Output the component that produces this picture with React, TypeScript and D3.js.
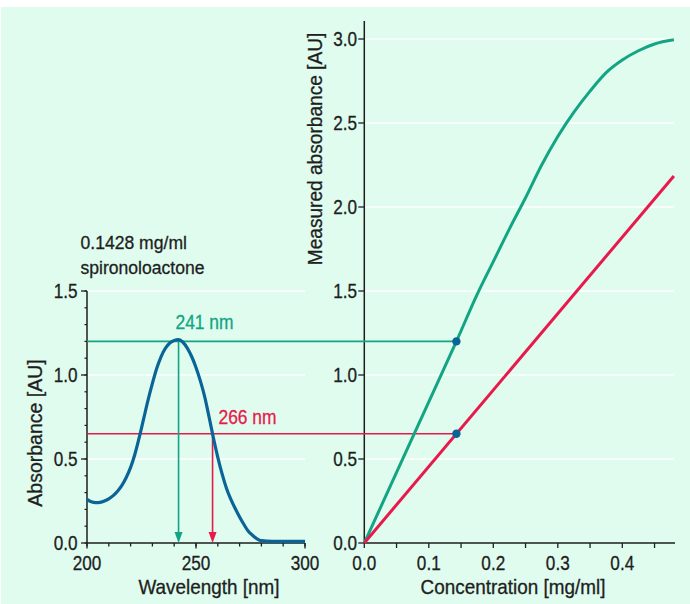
import React from "react";
import * as d3 from "d3";

// Spectrum (wavelength nm, absorbance AU)
const specWl = [200, 202, 204, 206, 208, 210, 212, 214, 216, 218, 220, 222, 224, 226, 228, 230, 232, 234, 236, 238, 240, 242, 244, 246, 248, 250, 252, 254, 256, 258, 260, 262, 264, 266, 268, 270, 272, 274, 276, 278, 280, 285, 290, 295, 300];
const specAbs = [0.26, 0.245, 0.24, 0.242, 0.25, 0.263, 0.282, 0.308, 0.343, 0.39, 0.45, 0.53, 0.63, 0.74, 0.85, 0.95, 1.04, 1.11, 1.16, 1.19, 1.205, 1.21, 1.195, 1.16, 1.11, 1.045, 0.965, 0.87, 0.75, 0.625, 0.51, 0.41, 0.325, 0.26, 0.205, 0.155, 0.11, 0.07, 0.045, 0.025, 0.014, 0.01, 0.01, 0.01, 0.01];

// Measured absorbance vs concentration
const concGreen = [0, 0.05, 0.1, 0.1428, 0.175, 0.2, 0.225, 0.25, 0.275, 0.3, 0.325, 0.35, 0.375, 0.4, 0.425, 0.45, 0.48];
const absGreen = [0, 0.42, 0.84, 1.2, 1.48, 1.675, 1.87, 2.055, 2.25, 2.42, 2.565, 2.69, 2.8, 2.875, 2.93, 2.97, 2.995];
const concRed = [0, 0.48];
const absRed = [0, 2.185];

// Markers
const markerLabels = ["241 nm", "266 nm"];
const markerWl = [242, 257.6];
const markerAbs = [1.2, 0.65];
const sampleConc = 0.1428;

const leftXTicks = [200, 250, 300];
const leftYTicks = [0, 0.5, 1.0, 1.5];
const rightXTicks = [0, 0.1, 0.2, 0.3, 0.4];
const rightYTicks = [0, 0.5, 1.0, 1.5, 2.0, 2.5, 3.0];

const GREEN = "#12a483";
const RED = "#e8194c";
const BLUE = "#0a6498";
const BG = "#dffcee";
const AX = "#1e1e1e";
const FONT = "'Liberation Sans', Arial, sans-serif";

function T(props: { x: number; y: number; sx?: number; size: number; anchor?: string; fill?: string; rot?: boolean; children: React.ReactNode; dy?: string }) {
  const { x, y, sx = 1, size, anchor = "start", fill = AX, rot = false, children, dy } = props;
  const tr = `translate(${x},${y})${rot ? " rotate(-90)" : ""} scale(${sx},1)`;
  return (
    <text transform={tr} dy={dy} textAnchor={anchor} fontFamily={FONT} fontSize={size} fill={fill} stroke={fill} strokeWidth={0.3}>{children}</text>
  );
}

export default function App() {
  const W = 690, H = 604;
  const xL = d3.scaleLinear().domain([200, 300]).range([87, 305]);
  const y = d3.scaleLinear().domain([0, 3]).range([543, 39]);
  const xR = d3.scaleLinear().domain([0, 0.1]).range([364.3, 428.8]);

  const specLine = d3.line<number>().x((_, i) => xL(specWl[i])).y((d) => y(d)).curve(d3.curveMonotoneX);
  const greenLine = d3.line<number>().x((_, i) => xR(concGreen[i])).y((d) => y(d)).curve(d3.curveMonotoneX);
  const redLine = d3.line<number>().x((_, i) => xR(concRed[i])).y((d) => y(d));

  const leftMinorX = d3.range(200, 301, 10);
  const leftMinorY = d3.range(0, 1.51, 0.1);
  const rightMinorX = d3.range(0, 0.481, 0.05);
  const colors = [GREEN, RED];
  const TS = 19.5, TX = 0.88;

  return (
    <div style={{ position: "absolute", left: 0, top: 0 }}>
      <svg width={W} height={H} style={{ display: "block" }}>
        <rect x={0} y={0} width={W} height={H} fill="#fff" />
        <rect x={1} y={7} width={W - 1} height={H - 7} fill={BG} />

        {/* grid lines */}
        {leftYTicks.filter((t) => t > 0).map((t) => (
          <line key={"gl" + t} x1={xL(200)} x2={xL(300)} y1={y(t)} y2={y(t)} stroke="#fff" strokeWidth={1.6} />
        ))}
        {rightYTicks.filter((t) => t > 0).map((t) => (
          <line key={"gr" + t} x1={xR(0)} x2={674} y1={y(t)} y2={y(t)} stroke="#fff" strokeWidth={1.6} />
        ))}

        {/* left axes */}
        <line x1={xL(200)} x2={xL(200)} y1={y(1.5)} y2={y(0)} stroke={AX} strokeWidth={1.5} />
        <line x1={xL(200)} x2={xL(300)} y1={y(0)} y2={y(0)} stroke={AX} strokeWidth={1.5} />
        {leftMinorY.map((t, i) => (
          <line key={"lmy" + i} x1={xL(200) - 2.5} x2={xL(200)} y1={y(t)} y2={y(t)} stroke={AX} strokeWidth={1.2} />
        ))}
        {leftYTicks.map((t) => (
          <g key={"ly" + t}>
            <line x1={xL(200) - 6} x2={xL(200)} y1={y(t)} y2={y(t)} stroke={AX} strokeWidth={1.3} />
            <T x={77.5} y={y(t)} dy="0.36em" anchor="end" size={TS} sx={TX}>{t.toFixed(1)}</T>
          </g>
        ))}
        {leftMinorX.map((t) => (
          <line key={"lmx" + t} x1={xL(t)} x2={xL(t)} y1={y(0)} y2={y(0) + 3.5} stroke={AX} strokeWidth={1.3} />
        ))}
        {leftXTicks.map((t) => (
          <g key={"lx" + t}>
            <line x1={xL(t)} x2={xL(t)} y1={y(0)} y2={y(0) + 5.5} stroke={AX} strokeWidth={1.3} />
            <T x={xL(t)} y={570} anchor="middle" size={TS} sx={TX}>{String(t)}</T>
          </g>
        ))}
        <T x={(xL(200) + xL(300)) / 2 + 13} y={594} anchor="middle" size={19.5} sx={0.97}>Wavelength [nm]</T>
        <T x={42} y={433} anchor="middle" size={19.5} sx={1} rot>Absorbance [AU]</T>

        {/* right axes */}
        <line x1={xR(0)} x2={xR(0)} y1={21} y2={y(0)} stroke={AX} strokeWidth={1.5} />
        <line x1={xR(0)} x2={675} y1={y(0)} y2={y(0)} stroke={AX} strokeWidth={1.5} />
        {rightYTicks.map((t) => (
          <g key={"ry" + t}>
            <line x1={xR(0) - 6} x2={xR(0)} y1={y(t)} y2={y(t)} stroke={AX} strokeWidth={1.3} />
            <T x={357} y={y(t)} dy="0.36em" anchor="end" size={TS} sx={TX}>{t.toFixed(1)}</T>
          </g>
        ))}
        {rightMinorX.map((t, i) => (
          <line key={"rmx" + i} x1={xR(t)} x2={xR(t)} y1={y(0)} y2={y(0) + 5} stroke={AX} strokeWidth={1.3} />
        ))}
        {rightXTicks.map((t) => (
          <T key={"rx" + t} x={xR(t)} y={570} anchor="middle" size={TS} sx={TX}>{t.toFixed(1)}</T>
        ))}
        <T x={513} y={594} anchor="middle" size={19.5} sx={0.97}>Concentration [mg/ml]</T>
        <T x={322} y={149} anchor="middle" size={19.5} sx={0.98} rot>Measured absorbance [AU]</T>

        {/* sample annotation */}
        <T x={80.5} y={249} size={18.5} sx={0.95}>0.1428 mg/ml</T>
        <T x={80.5} y={274} size={18.5} sx={0.95}>spironoloactone</T>

        {/* connector lines */}
        {markerAbs.map((a, i) => (
          <line key={"h" + i} x1={xL(200)} x2={xR(sampleConc)} y1={y(a)} y2={y(a)} stroke={colors[i]} strokeWidth={1.6} />
        ))}

        {/* arrows */}
        {markerWl.map((w, i) => (
          <g key={"ar" + i}>
            <line x1={xL(w)} x2={xL(w)} y1={y(markerAbs[i])} y2={y(0) - 8} stroke={colors[i]} strokeWidth={1.6} />
            <path d={`M${xL(w) - 4},${y(0) - 11} L${xL(w) + 4},${y(0) - 11} L${xL(w)},${y(0)} Z`} fill={colors[i]} />
          </g>
        ))}

        {/* spectrum */}
        <path d={specLine(specAbs) || ""} fill="none" stroke={BLUE} strokeWidth={3.2} strokeLinejoin="round" />

        {/* calibration lines */}
        <path d={greenLine(absGreen) || ""} fill="none" stroke={GREEN} strokeWidth={3} />
        <path d={redLine(absRed) || ""} fill="none" stroke={RED} strokeWidth={3} />

        {markerAbs.map((a, i) => (
          <circle key={"c" + i} cx={xR(sampleConc)} cy={y(a)} r={4.2} fill={BLUE} />
        ))}

        {/* labels */}
        <T x={204.5} y={329} anchor="middle" size={20} sx={0.87} fill={GREEN}>{markerLabels[0]}</T>
        <T x={218.5} y={424} size={20} sx={0.87} fill={RED}>{markerLabels[1]}</T>
      </svg>
    </div>
  );
}
